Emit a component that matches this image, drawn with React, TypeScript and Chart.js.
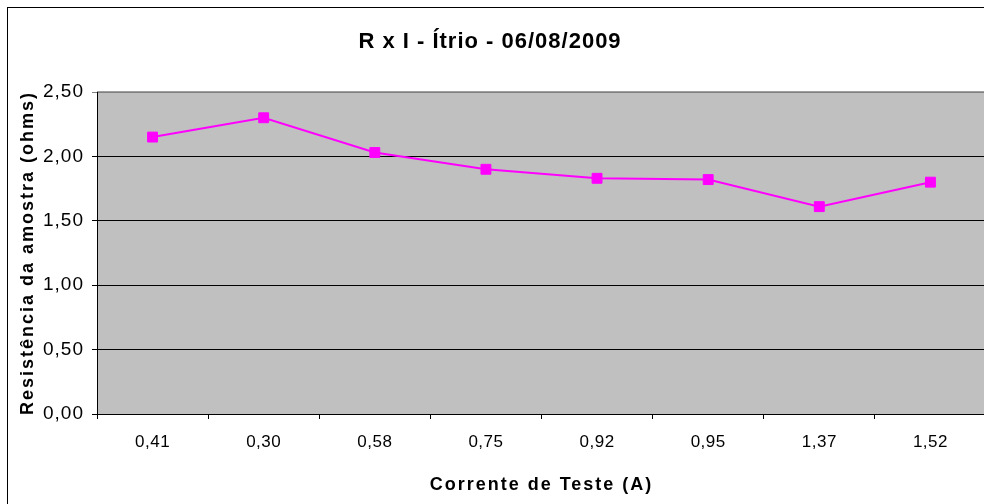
import React, { useEffect, useRef } from "react";
import { Chart, registerables } from "chart.js";

Chart.register(...registerables);

const chartTitle = "R x I - Ítrio - 06/08/2009";
const xAxisTitle = "Corrente de Teste (A)";
const yAxisTitle = "Resistência da amostra (ohms)";
const categories = ["0,41", "0,30", "0,58", "0,75", "0,92", "0,95", "1,37", "1,52"];
const resistance = [2.15, 2.30, 2.03, 1.90, 1.83, 1.82, 1.61, 1.80];
const yMin = 0;
const yMax = 2.5;
const yStep = 0.5;

const FONT = "'Liberation Sans', Arial, Helvetica, sans-serif";
const W = 990;
const H = 510;

function spacingFor(font: string): string {
  const m = /(\d+(?:\.\d+)?)px/.exec(font);
  const size = m ? parseFloat(m[1]) : 0;
  const bold = /bold|700/.test(font);
  if (size >= 21) return "1px";
  if (bold) return "2px";
  if (size >= 18) return "1px";
  return "0.5px";
}

const bgPlugin = {
  id: "plotBg",
  beforeDraw(chart: any) {
    const { ctx, chartArea } = chart;
    if (!ctx.__spacingPatched) {
      const orig = ctx.fillText.bind(ctx);
      ctx.fillText = (text: string, x: number, y: number, maxWidth?: number) => {
        ctx.letterSpacing = spacingFor(ctx.font);
        if (maxWidth === undefined) orig(text, x, y);
        else orig(text, x, y, maxWidth);
      };
      ctx.__spacingPatched = true;
    }
    ctx.save();
    ctx.fillStyle = "#C0C0C0";
    ctx.fillRect(chartArea.left, chartArea.top, chartArea.right - chartArea.left, chartArea.bottom - chartArea.top);
    ctx.strokeStyle = "#808080";
    ctx.lineWidth = 1.5;
    ctx.beginPath();
    ctx.moveTo(chartArea.left, chartArea.top);
    ctx.lineTo(chartArea.right, chartArea.top);
    ctx.lineTo(chartArea.right, chartArea.bottom);
    ctx.stroke();
    ctx.restore();
  },
  afterDraw(chart: any) {
    const { ctx } = chart;
    ctx.save();
    ctx.font = `bold 22px ${FONT}`;
    ctx.fillStyle = "#000";
    ctx.textAlign = "center";
    ctx.textBaseline = "middle";
    ctx.fillText(chartTitle, 482, 34);
    ctx.restore();
  },
};

export default function App() {
  const ref = useRef<HTMLCanvasElement>(null);
  useEffect(() => {
    document.documentElement.style.overflow = "hidden";
    document.body.style.overflow = "hidden";
    const chart = new Chart(ref.current!, {
      type: "line",
      data: {
        labels: categories,
        datasets: [
          {
            data: resistance,
            borderColor: "#FF00FF",
            backgroundColor: "#FF00FF",
            borderWidth: 2,
            pointStyle: "rect",
            pointRadius: 7,
            pointBorderWidth: 1,
            pointBackgroundColor: "#FF00FF",
            pointBorderColor: "#FF00FF",
            tension: 0,
          },
        ],
      },
      options: {
        responsive: false,
        animation: false,
        layout: { padding: { left: 0, right: 12, top: 84, bottom: 0 } },
        plugins: {
          legend: { display: false },
          tooltip: { enabled: false },
          title: { display: false },
        },
        scales: {
          x: {
            type: "category",
            offset: true,
            grid: {
              offset: true,
              drawOnChartArea: false,
              drawTicks: true,
              tickLength: 5,
              color: "#000",
            },
            border: { color: "#000", width: 1 },
            ticks: {
              color: "#000",
              font: { family: FONT, size: 17, lineHeight: 1.2 },
              padding: 13,
              maxRotation: 0,
              autoSkip: false,
            },
            title: {
              display: true,
              text: xAxisTitle,
              color: "#000",
              font: { family: FONT, size: 18, weight: "bold", lineHeight: 1.2 },
              padding: { top: 0, bottom: 22 },
            },
            afterFit(scale: any) {
              scale.height = 104;
            },
          },
          y: {
            min: yMin,
            max: yMax,
            grid: {
              color: (c: any) => (c.tick && c.tick.value === yMax ? "#808080" : "#000"),
              lineWidth: 1,
              tickLength: 5,
              drawTicks: true,
            },
            border: { color: "#000", width: 1 },
            ticks: {
              stepSize: yStep,
              color: "#000",
              font: { family: FONT, size: 19, lineHeight: 1.2 },
              padding: 8,
              callback: (v: any) => Number(v).toFixed(2).replace(".", ","),
            },
            title: {
              display: true,
              text: yAxisTitle,
              color: "#000",
              font: { family: FONT, size: 18, weight: "bold", lineHeight: 1.2 },
              padding: { top: 9, bottom: 0 },
            },
            afterFit(scale: any) {
              scale.width = 89;
            },
          },
        },
      },
      plugins: [bgPlugin],
    });
    return () => chart.destroy();
  }, []);

  return (
    <div
      style={{
        position: "absolute",
        left: 7,
        top: 7,
        width: W + 2,
        height: H + 2,
        border: "1px solid #000",
        background: "#fff",
      }}
    >
      <canvas ref={ref} width={W} height={H} style={{ display: "block", width: W, height: H }} />
    </div>
  );
}
